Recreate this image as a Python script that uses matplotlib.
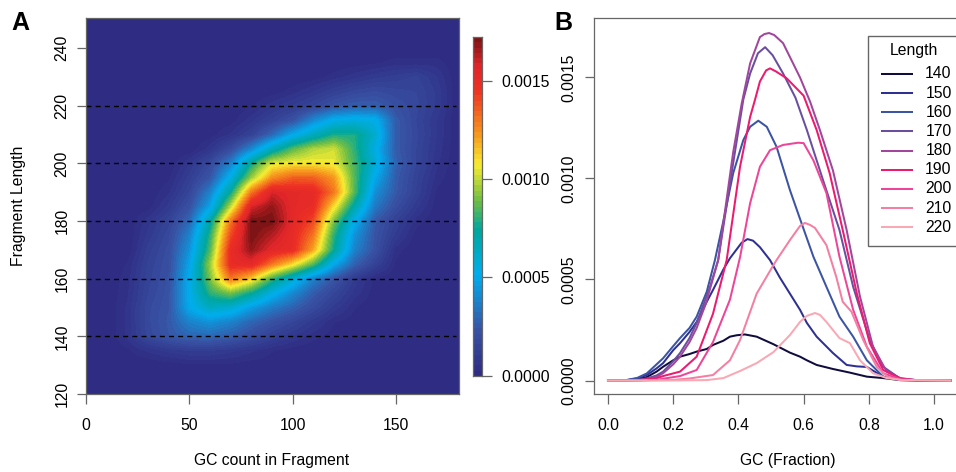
# -*- coding: utf-8 -*-
import numpy as np
from matplotlib import pyplot as plt
from matplotlib.colors import LinearSegmentedColormap
from matplotlib.lines import Line2D
from matplotlib.patches import Rectangle

plt.rcParams['font.family'] = ['Liberation Sans', 'DejaVu Sans']
plt.rcParams['font.size'] = 11.3

W, H = 956, 472
GREY = '#666666'

# panel A, density in 1e-4 units, columns GC count, rows fragment length
gc_cols = list(range(0, 190, 10))
len_rows = list(range(120, 255, 5))
density = [
    [0, 0, 0, 0, 0, 0, 0, 0, 0, 0, 0, 0, 0, 0, 0, 0, 0, 0, 0],  # 120
    [0, 0, 0, 0, 0, 0, 0, 0, 0, 0, 0, 0, 0, 0, 0, 0, 0, 0, 0],  # 125
    [0, 0, 0, 0, .1, .2, .2, .2, .1, .1, 0, 0, 0, 0, 0, 0, 0, 0, 0],  # 130
    [0, 0, .2, .6, .9, 1.1, 1.1, .9, .6, .3, .1, 0, 0, 0, 0, 0, 0, 0, 0],  # 135
    [0, 0, .6, 1.7, 2.4, 2.9, 3, 2.6, 2, 1.3, .8, .4, .1, 0, 0, 0, 0, 0, 0],  # 140
    [0, 0, .6, 1.8, 2.5, 3.8, 4.3, 3.8, 2.9, 2.2, 1.6, .9, .3, .1, 0, 0, 0, 0, 0],  # 145
    [0, 0, .6, 1.8, 2.4, 5, 6.4, 6, 4.6, 3.6, 2.8, 1.9, 1, .3, 0, 0, 0, 0, 0],  # 150
    [0, 0, .5, 1.6, 2.3, 5.2, 8, 9, 7.5, 5.5, 4, 2.6, 1.6, .7, .1, 0, 0, 0, 0],  # 155
    [0, 0, .4, 1.5, 2.2, 5.2, 9, 13, 11.3, 8.2, 6, 3.8, 2.4, 1, .2, 0, 0, 0, 0],  # 160
    [0, 0, .3, 1.4, 2.1, 4.8, 9.5, 15, 15.3, 13, 11, 8.5, 5, 2.8, 1.4, .2, 0, 0, 0],  # 165
    [0, 0, 0, 1.2, 2, 4.3, 8.5, 15, 16.8, 15.5, 15, 12, 7.5, 3.8, 2.2, .4, 0, 0, 0],  # 170
    [0, 0, 0, .9, 1.8, 3.8, 8, 14, 17.2, 16.3, 15.1, 13, 8, 4.3, 2.3, 1, .1, 0, 0],  # 175
    [0, 0, 0, .7, 1.5, 3, 7, 13, 17.2, 17.2, 15.4, 14, 9, 5.2, 2.5, 1.3, .4, 0, 0],  # 180
    [0, 0, 0, .1, .9, 2.2, 4.8, 10, 15.8, 16.8, 15.4, 15, 11, 7, 3.5, 2, .9, .1, 0],  # 185
    [0, 0, 0, 0, .5, 1.6, 3.8, 7.5, 13, 15.8, 15.4, 15.2, 13, 8.5, 4.2, 2.5, 1.3, .2, 0],  # 190
    [0, 0, 0, 0, .2, 1.2, 2.4, 5.5, 9.5, 12.5, 13.5, 13.5, 12.3, 8.5, 5, 2.6, 1.4, .4, 0],  # 195
    [0, 0, 0, 0, 0, .8, 1.8, 3.8, 7.6, 10.4, 10.8, 10.8, 10.6, 8.3, 5.8, 2.8, 1.6, .6, 0],  # 200
    [0, 0, 0, 0, 0, 0, .7, 1.9, 4, 6.6, 8.6, 9.8, 10.2, 8, 5.5, 2.6, 1.6, .7, 0],  # 205
    [0, 0, 0, 0, 0, 0, .1, .6, 1.4, 3, 5, 6.5, 7.8, 7.8, 6, 2.6, 1.7, .8, 0],  # 210
    [0, 0, 0, 0, 0, 0, 0, .1, .7, 1.4, 2.2, 4, 5.3, 5.6, 5.4, 2.6, 1.6, .8, 0],  # 215
    [0, 0, 0, 0, 0, 0, 0, 0, .2, .7, 1.1, 1.6, 2.3, 2.7, 2.7, 2.1, 1.7, 1, 0],  # 220
    [0, 0, 0, 0, 0, 0, 0, 0, 0, .1, .4, .8, 1.3, 1.7, 1.9, 1.7, 1.6, 1, 0],  # 225
    [0, 0, 0, 0, 0, 0, 0, 0, 0, 0, 0, .1, .4, .7, 1, 1.2, 1.4, .8, 0],  # 230
    [0, 0, 0, 0, 0, 0, 0, 0, 0, 0, 0, 0, 0, .1, .2, .4, .4, .4, 0],  # 235
    [0, 0, 0, 0, 0, 0, 0, 0, 0, 0, 0, 0, 0, 0, 0, 0, 0, 0, 0],  # 240
    [0, 0, 0, 0, 0, 0, 0, 0, 0, 0, 0, 0, 0, 0, 0, 0, 0, 0, 0],  # 245
    [0, 0, 0, 0, 0, 0, 0, 0, 0, 0, 0, 0, 0, 0, 0, 0, 0, 0, 0],  # 250
]
hline_lengths = [140, 160, 180, 200, 220]
cbar_ticks = [0.0, 0.0005, 0.0010, 0.0015]
cbar_max = 0.00172

# panel B, y in 1e-5 units
lengths = [140, 150, 160, 170, 180, 190, 200, 210, 220]
line_colors = ['#100C3E', '#2E3192', '#3C54A4', '#6A4FA0', '#A1469C',
               '#ED1A6E', '#EE4599', '#F47FA2', '#F9A8B4']
gc_140 = [0, .05, .09, .119, .149, .169, .2, .221, .25, .272, .303, .322, .354, .374, .395, .42, .456, .507, .558, .589, .61, .64, .69, .742, .794, .844, .896, .95, 1.05]
y_140 = [0, 0, .5, 1.7, 4.4, 6.8, 10, 11.8, 13.1, 14.3, 15.6, 17.6, 19.7, 21.7, 22.4, 22.8, 21.7, 18, 13.8, 11.8, 10, 7.7, 5.7, 3.9, 1.9, 1.2, .2, .1, 0]
gc_150 = [0, .05, .09, .119, .149, .169, .2, .221, .25, .272, .303, .322, .354, .374, .395, .41, .428, .445, .466, .497, .527, .558, .589, .61, .64, .69, .732, .763, .794, .844, .896, .95, 1.05]
y_150 = [0, 0, 1, 2.7, 6, 8.6, 15, 18.5, 24, 29, 39, 44.8, 55, 60.5, 65, 68.2, 70, 69.2, 66, 59.6, 51, 43, 35, 28.5, 21.7, 13.6, 7.7, 7, 6.7, 1.9, .2, .05, 0]
gc_160 = [0, .05, .09, .119, .149, .169, .2, .221, .25, .272, .303, .328, .354, .384, .415, .436, .461, .487, .517, .558, .589, .63, .67, .71, .752, .794, .844, .896, .95, 1.05]
y_160 = [0, 0, 1.3, 3.5, 8, 11, 17, 21, 26, 31.6, 44, 59.6, 79, 102.6, 119, 125.6, 128.6, 125.6, 115.7, 94.3, 80, 61.3, 46.4, 31.6, 21.7, 10, 1.9, .3, .05, 0]
gc_170 = [0, .05, .09, .119, .149, .169, .2, .221, .25, .272, .313, .338, .384, .415, .436, .46, .482, .505, .537, .575, .61, .66, .71, .752, .803, .844, .896, .95, 1.05]
y_170 = [0, 0, .3, 1, 2.5, 4.4, 9.5, 13.6, 21, 28.5, 46.4, 59.6, 107.6, 139, 152, 162, 165, 161, 152, 140, 124, 99, 74.5, 46.4, 20, 6.8, 1, .1, 0]
gc_180 = [0, .05, .09, .119, .149, .169, .2, .221, .25, .272, .30, .338, .384, .41, .436, .466, .48, .494, .51, .537, .589, .62, .65, .69, .732, .773, .813, .855, .896, .95, 1.05]
y_180 = [0, 0, .2, .6, 1.8, 3.6, 8, 11.8, 19, 26, 38, 59.6, 113, 137, 157, 170, 171.5, 172, 171, 167, 150, 138, 124, 104, 74.5, 41.5, 16.7, 4.4, 1.2, .1, 0]
gc_190 = [0, .05, .1, .15, .169, .221, .272, .322, .364, .405, .436, .451, .466, .485, .497, .515, .548, .6, .64, .68, .72, .763, .803, .844, .9, .95, 1.05]
y_190 = [0, 0, .2, 1.2, 2.2, 4.4, 11.8, 33, 59.6, 105.8, 130.5, 139, 148, 153.5, 154.5, 153, 149.6, 141, 124, 102.6, 74.5, 43.3, 18.5, 5.2, .8, .1, 0]
gc_200 = [0, .05, .1, .15, .221, .272, .322, .374, .405, .436, .466, .497, .537, .583, .6, .63, .67, .71, .752, .794, .844, .9, .95, 1.05]
y_200 = [0, 0, 0, .4, 2.2, 5.2, 19, 40, 61, 87.8, 105.8, 114, 116.6, 117.7, 117.5, 109, 92.8, 61.3, 35, 16.7, 3.6, .5, .1, 0]
gc_210 = [0, .1, .2, .25, .322, .374, .405, .456, .507, .517, .558, .589, .604, .62, .635, .67, .70, .72, .747, .783, .824, .86, .9, 1.05]
y_210 = [0, 0, .3, 1, 2.7, 10, 20, 43, 57, 59.6, 69.5, 76.5, 78, 77, 75.5, 67, 51.4, 39, 34, 20, 6.8, 1.5, .3, 0]
gc_220 = [0, .2, .303, .354, .405, .456, .507, .558, .589, .61, .635, .65, .67, .71, .742, .773, .813, .855, .9, 1.05]
y_220 = [0, 0, .2, 1.2, 4.7, 8.6, 14, 22.5, 29, 32, 33.4, 32.5, 29, 21, 18.5, 10, 3.6, 1.2, .2, 0]
gc_lists = [gc_140, gc_150, gc_160, gc_170, gc_180, gc_190, gc_200, gc_210, gc_220]
y_lists = [y_140, y_150, y_160, y_170, y_180, y_190, y_200, y_210, y_220]

cmap = LinearSegmentedColormap.from_list('density', [
    (0.0, '#2F2C84'), (0.13, '#3953A4'), (0.295, '#00AEEF'), (0.43, '#00A79D'),
    (0.52, '#72BF44'), (0.625, '#F9ED32'), (0.72, '#F7941D'), (0.85, '#EE3124'),
    (0.92, '#E0262A'), (1.0, '#7F1416')], N=64)


def px_axes(left, top, right, bottom):
    return fig.add_axes([left / W, 1 - bottom / H, (right - left) / W, (bottom - top) / H])


def style_spines(ax):
    for s in ax.spines.values():
        s.set_color(GREY)
        s.set_linewidth(0.9)
    ax.tick_params(length=9.5 * 0.72, width=0.9, color=GREY, labelcolor='black')


fig = plt.figure(figsize=(W / 100, H / 100), dpi=100)

# A: heat map
axa = px_axes(86, 18, 459, 394)
z = np.array(density) * 1e-4
axa.imshow(z, origin='lower', aspect='auto', cmap=cmap, vmin=0, vmax=cbar_max,
           interpolation='bilinear',
           extent=(gc_cols[0] - 5, gc_cols[-1] + 5, len_rows[0] - 2.5, len_rows[-1] + 2.5))
axa.set_xlim(0, 180.5)
axa.set_ylim(120, 250.4)
axa.hlines(hline_lengths, 0, 179, colors='black', linewidth=1.0, linestyles=(0, (3.6, 3)))
axa.set_xticks([0, 50, 100, 150])
axa.set_yticks([120, 140, 160, 180, 200, 220, 240])
style_spines(axa)
axa.tick_params(axis='x', pad=10.5)
axa.tick_params(axis='y', pad=5)
plt.setp(axa.get_yticklabels(), rotation=90, va='center')
fig.text(272 / W, 1 - 461 / H, 'GC count in Fragment', ha='center', va='center')
fig.text(19 / W, 1 - 206 / H, 'Fragment Length', ha='center', va='center', rotation=90)

# colour bar
axc = px_axes(472.7, 37.3, 481.7, 375.7)
grad = np.linspace(0, cbar_max, 64).reshape(-1, 1)
axc.imshow(grad, origin='lower', aspect='auto', cmap=cmap, vmin=0, vmax=cbar_max,
           extent=(0, 1, 0, cbar_max))
axc.set_xticks([])
axc.yaxis.tick_right()
axc.set_yticks(cbar_ticks)
axc.set_yticklabels(['%.4f' % t for t in cbar_ticks])
style_spines(axc)
axc.tick_params(axis='y', pad=7)

# B: curves
axb = px_axes(594, 18, 957, 394)
for gc, y, col in zip(gc_lists, y_lists, line_colors):
    axb.plot(gc, np.array(y) * 1e-5, color=col, linewidth=1.45, solid_joinstyle='round')
axb.set_xlim((594 - 608) / 326, (957 - 608) / 326)
axb.set_ylim((380.5 - 394) * 4.95e-6, (380.5 - 18) * 4.95e-6)
axb.set_xticks([0.0, 0.2, 0.4, 0.6, 0.8, 1.0])
axb.set_yticks([0.0, 0.0005, 0.0010, 0.0015])
axb.set_yticklabels(['0.0000', '0.0005', '0.0010', '0.0015'])
style_spines(axb)
axb.spines['right'].set_visible(False)
axb.tick_params(axis='x', pad=10.5)
axb.tick_params(axis='y', pad=6)
plt.setp(axb.get_yticklabels(), rotation=90, va='center')
fig.text(788 / W, 1 - 461 / H, 'GC (Fraction)', ha='center', va='center')

# legend box, cut by the right edge like the original
fig.add_artist(Rectangle((868.3 / W, 1 - 245.7 / H), 100 / W, 210 / H, transform=fig.transFigure,
                         facecolor='white', edgecolor=GREY, linewidth=1.0))
fig.text(914 / W, 1 - 50 / H, 'Length', ha='center', va='center')
for i, (n, col) in enumerate(zip(lengths, line_colors)):
    yy = 1 - (74 + i * 19.15) / H
    fig.add_artist(Line2D([882 / W, 912 / W], [yy, yy], transform=fig.transFigure,
                          color=col, linewidth=1.45))
    fig.text(951.7 / W, yy, str(n), ha='right', va='center')

fig.text(11 / W, 1 - 30 / H, 'A', fontsize=18, fontweight='bold', ha='left', va='baseline')
fig.text(554 / W, 1 - 30 / H, 'B', fontsize=18, fontweight='bold', ha='left', va='baseline')

fig.savefig('out.png', dpi=100)
